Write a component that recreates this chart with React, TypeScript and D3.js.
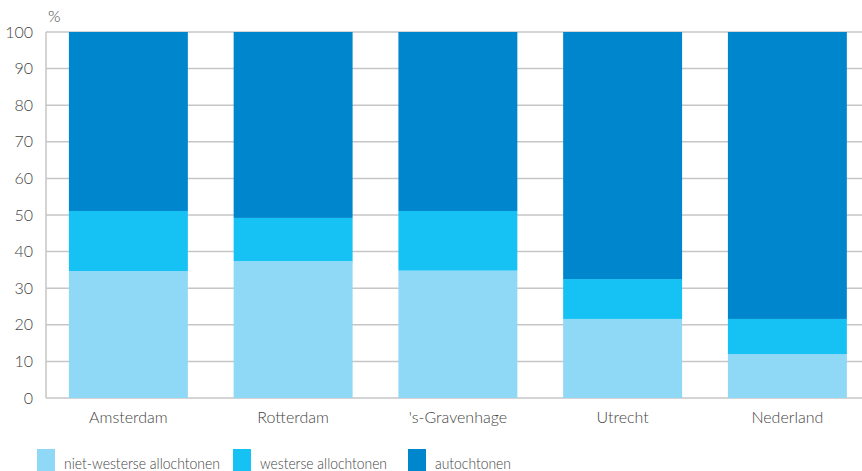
import React, { useEffect, useRef } from 'react';
import * as d3 from 'd3';

const categories = ['Amsterdam', 'Rotterdam', "'s-Gravenhage", 'Utrecht', 'Nederland'];
const seriesNames = ['niet-westerse allochtonen', 'westerse allochtonen', 'autochtonen'];
const nietWesters = [34.7, 37.4, 34.8, 21.6, 12.0];
const westers = [16.4, 11.8, 16.3, 10.9, 9.6];
const autochtoon = [48.9, 50.8, 48.9, 67.5, 78.4];
const yTicks = [0, 10, 20, 30, 40, 50, 60, 70, 80, 90, 100];
const colors = ['#8fd8f6', '#16c1f3', '#0086cd'];

const App: React.FC = () => {
  const svgRef = useRef<SVGSVGElement | null>(null);

  useEffect(() => {
    if (!svgRef.current) return;
    const svg = d3.select(svgRef.current);
    svg.selectAll('*').remove();

    const width = 862;
    const left = 46;
    const top = 32;
    const bottom = 398;
    const font = 'Lato, "Open Sans", sans-serif';

    const data = categories.map((c, i) => ({
      name: c,
      nw: nietWesters[i],
      w: westers[i],
      a: autochtoon[i],
    }));

    const x = d3.scaleBand()
      .domain(categories)
      .range([left, left + 5 * 164.75])
      .paddingInner(0.278)
      .paddingOuter(0.139);

    const y = d3.scaleLinear().domain([0, 100]).range([bottom, top]);

    // grid lines
    svg.append('g')
      .selectAll('line')
      .data(yTicks)
      .enter()
      .append('line')
      .attr('x1', left)
      .attr('x2', width)
      .attr('y1', d => y(d))
      .attr('y2', d => y(d))
      .attr('stroke', '#c6c6c6')
      .attr('stroke-width', 1.5);

    svg.append('line')
      .attr('x1', left)
      .attr('x2', left)
      .attr('y1', top)
      .attr('y2', bottom)
      .attr('stroke', '#c6c6c6')
      .attr('stroke-width', 1.5);

    // stacked bars
    const stack = d3.stack<any>().keys(['nw', 'w', 'a']);
    const layers = stack(data);

    svg.append('g')
      .selectAll('g')
      .data(layers)
      .enter()
      .append('g')
      .attr('fill', (d, i) => colors[i])
      .selectAll('rect')
      .data(d => d)
      .enter()
      .append('rect')
      .attr('x', d => x(d.data.name) || 0)
      .attr('y', d => y(d[1]))
      .attr('width', x.bandwidth())
      .attr('height', d => y(d[0]) - y(d[1]));

    // y tick labels
    svg.append('g')
      .selectAll('text')
      .data(yTicks)
      .enter()
      .append('text')
      .attr('x', 33)
      .attr('y', d => y(d))
      .attr('dy', '0.35em')
      .attr('text-anchor', 'end')
      .attr('font-family', font)
      .attr('font-size', 16)
      .attr('font-weight', 300)
      .attr('fill', '#444')
      .text(d => d);

    svg.append('text')
      .attr('x', 48)
      .attr('y', 22)
      .attr('font-family', font)
      .attr('font-size', 16)
      .attr('font-weight', 300)
      .attr('fill', '#444')
      .text('%');

    // x labels
    svg.append('g')
      .selectAll('text')
      .data(categories)
      .enter()
      .append('text')
      .attr('x', d => (x(d) || 0) + x.bandwidth() / 2)
      .attr('y', 423)
      .attr('text-anchor', 'middle')
      .attr('font-family', font)
      .attr('font-size', 16)
      .attr('font-weight', 300)
      .attr('fill', '#444')
      .text(d => d);

    // legend
    const legendX = [37, 233, 408];
    const legendLen = [156, 127, 76];
    const lg = svg.append('g');
    seriesNames.forEach((s, i) => {
      lg.append('rect')
        .attr('x', legendX[i])
        .attr('y', 449)
        .attr('width', 18)
        .attr('height', 22)
        .attr('fill', colors[i]);
      lg.append('text')
        .attr('x', legendX[i] + 27)
        .attr('y', 469)
        .attr('font-family', font)
        .attr('font-size', 16)
        .attr('font-weight', 300)
        .attr('fill', '#444')
        .attr('textLength', legendLen[i])
        .attr('lengthAdjust', 'spacingAndGlyphs')
        .text(s);
    });
  }, []);

  return (
    <svg
      ref={svgRef}
      width={862}
      height={471}
      style={{ position: 'absolute', left: 0, top: 0 }}
    ></svg>
  );
};

export default App;
